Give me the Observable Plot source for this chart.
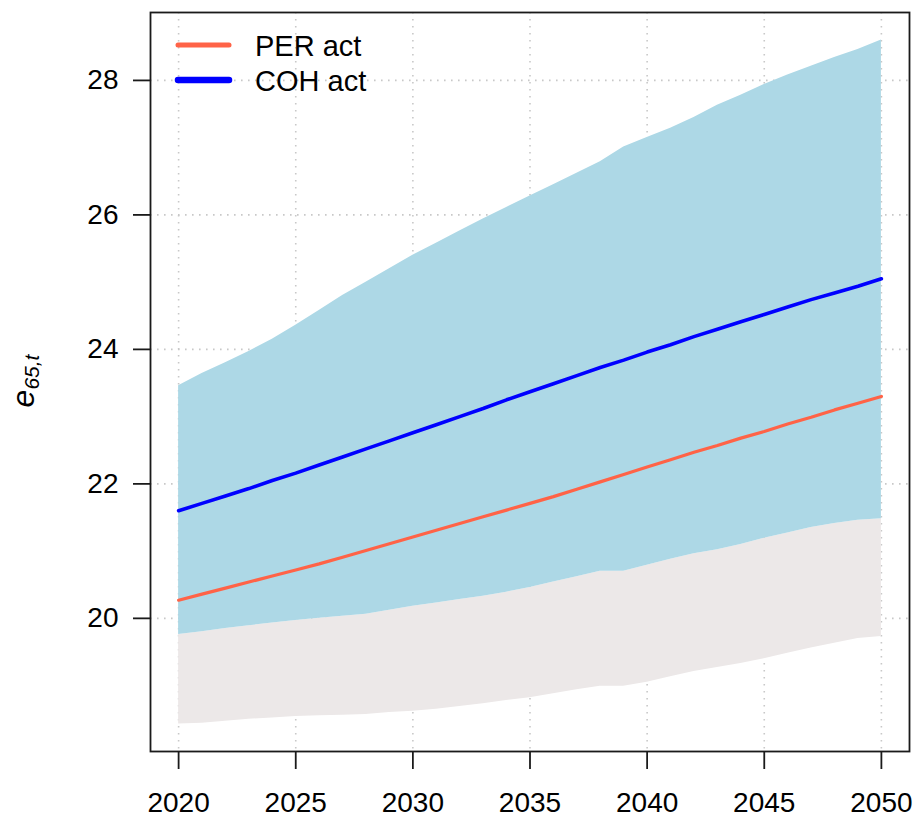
<!DOCTYPE html>
<html>
<head>
<meta charset="utf-8">
<script src="https://cdn.jsdelivr.net/npm/d3@7"></script>
<script src="https://cdn.jsdelivr.net/npm/@observablehq/plot@0.6"></script>
<style>
  html, body { margin: 0; padding: 0; background: #fff; }
  #chart { width: 916px; height: 819px; }
</style>
</head>
<body>
<div id="chart"></div>
<script>
// ---- data ----
const years = [2020,2021,2022,2023,2024,2025,2026,2027,2028,2029,2030,
               2031,2032,2033,2034,2035,2036,2037,2038,2039,2040,
               2041,2042,2043,2044,2045,2046,2047,2048,2049,2050];

// period life expectancy (central)
const perAct = [20.27,20.36,20.45,20.54,20.63,20.72,20.81,20.91,21.01,21.11,21.21,
                21.31,21.41,21.51,21.61,21.71,21.81,21.92,22.03,22.14,22.25,
                22.36,22.47,22.57,22.68,22.78,22.89,22.99,23.10,23.20,23.30];
// cohort life expectancy (central)
const cohAct = [21.60,21.71,21.82,21.93,22.05,22.16,22.28,22.40,22.52,22.64,22.76,
                22.88,23.00,23.12,23.25,23.37,23.49,23.61,23.73,23.84,23.96,
                24.07,24.19,24.30,24.41,24.52,24.63,24.74,24.84,24.94,25.05];
// cohort band: upper and lower bounds
const cohUpper = [23.46,23.64,23.80,23.97,24.15,24.36,24.58,24.80,25.00,25.20,25.40,
                  25.58,25.76,25.94,26.11,26.28,26.45,26.62,26.79,27.01,27.15,
                  27.29,27.45,27.63,27.78,27.94,28.08,28.21,28.34,28.46,28.60];
const cohLower = [19.76,19.80,19.85,19.89,19.93,19.97,20.00,20.03,20.06,20.12,20.18,
                  20.23,20.28,20.33,20.39,20.46,20.54,20.62,20.70,20.70,20.79,
                  20.88,20.96,21.02,21.10,21.19,21.27,21.35,21.41,21.46,21.48];
// period band: lower bound (upper part hidden under the cohort band)
const perLower = [18.43,18.44,18.47,18.50,18.52,18.54,18.55,18.56,18.57,18.60,18.62,
                  18.65,18.69,18.73,18.78,18.82,18.88,18.94,18.99,18.99,19.05,
                  19.13,19.21,19.27,19.33,19.40,19.48,19.56,19.63,19.70,19.73];

const xTicks = [2020, 2025, 2030, 2035, 2040, 2045, 2050];
const yTicks = [20, 22, 24, 26, 28];
const legendLabels = ["PER act", "COH act"];
const legendColors = ["#FF6347", "#0000FF"];

// ---- table ----
const rows = years.map((yr, i) => ({
  year: yr, per: perAct[i], coh: cohAct[i],
  cohUp: cohUpper[i], cohLo: cohLower[i], perLo: perLower[i]
}));

const FONT = "'Liberation Sans', Arial, Helvetica, sans-serif";

const chart = Plot.plot({
  width: 916,
  height: 819,
  marginLeft: 150,
  marginRight: 7,
  marginTop: 12,
  marginBottom: 68,
  style: { fontFamily: FONT, fontSize: "28px", color: "#000", background: "#fff" },
  x: { domain: [2018.8, 2051.2] },
  y: { domain: [18.02, 29.01] },
  marks: [
    Plot.gridX(xTicks, { stroke: "#c8c8c8", strokeOpacity: 1, strokeWidth: 1.6, strokeDasharray: "1.6,5.4" }),
    Plot.gridY(yTicks, { stroke: "#c8c8c8", strokeOpacity: 1, strokeWidth: 1.6, strokeDasharray: "1.6,5.4" }),
    Plot.areaY(rows, { x: "year", y1: "perLo", y2: "cohLo", fill: "#ECE8E8" }),
    Plot.areaY(rows, { x: "year", y1: "cohLo", y2: "cohUp", fill: "#ADD8E6" }),
    Plot.lineY(rows, { x: "year", y: "per", stroke: legendColors[0], strokeWidth: 3.2 }),
    Plot.lineY(rows, { x: "year", y: "coh", stroke: legendColors[1], strokeWidth: 3.6 }),
    Plot.frame({ stroke: "#1a1a1a", strokeWidth: 1.8 }),
    Plot.axisX(xTicks, { tickSize: 18, tickPadding: 23, strokeWidth: 1.8, stroke: "#1a1a1a",
                         fontSize: 28, label: null, tickFormat: d => String(d) }),
    Plot.axisY(yTicks, { tickSize: 17, tickPadding: 15, strokeWidth: 1.8, stroke: "#1a1a1a",
                         fontSize: 28, label: null, tickFormat: d => String(d) })
  ]
});

document.getElementById("chart").appendChild(chart);

// ---- legend (inside plot, top-left) ----
const svg = d3.select(chart);
const leg = svg.append("g")
  .attr("font-family", FONT).attr("font-size", 29)
  .attr("fill", "#000").attr("text-anchor", "start");
const legY = [45, 80];
const legW = [5, 6.5];
legendLabels.forEach((lab, i) => {
  leg.append("line")
    .attr("x1", 178).attr("x2", 229)
    .attr("y1", legY[i]).attr("y2", legY[i])
    .attr("stroke", legendColors[i]).attr("stroke-width", legW[i])
    .attr("stroke-linecap", "round");
  leg.append("text")
    .attr("x", 255).attr("y", legY[i] + 10.5)
    .attr("text-anchor", "start")
    .text(lab);
});

// ---- y-axis title: italic e with subscript 65,t ----
const yt = svg.append("text")
  .attr("transform", "translate(34,381) rotate(-90)")
  .attr("text-anchor", "middle")
  .attr("font-family", FONT)
  .attr("font-style", "italic")
  .attr("fill", "#000");
yt.append("tspan").attr("font-size", 32).text("e");
yt.append("tspan").attr("font-size", 21).attr("dy", 5).text("65,t");
</script>
</body>
</html>
